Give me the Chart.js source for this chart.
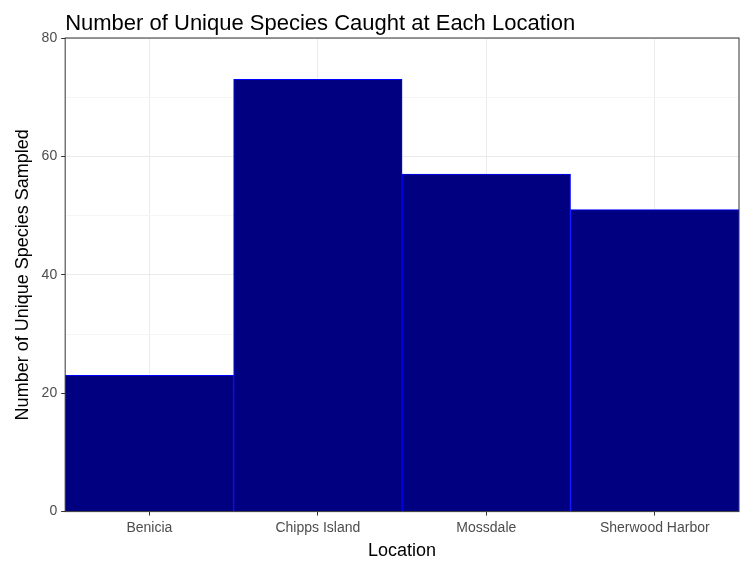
<!DOCTYPE html>
<html><head><meta charset="utf-8">
<script src="https://cdn.jsdelivr.net/npm/chart.js@4"></script>
<style>html,body{margin:0;padding:0;background:#fff}#w{width:750px;height:570px}</style>
</head><body><div id="w"><canvas id="c"></canvas></div>
<script>
const categories = ["Benicia","Chipps Island","Mossdale","Sherwood Harbor"];
const speciesCounts = [23,73,57,51];
const yTicks = [0,20,40,60,80];
const chartTitle = 'Number of Unique Species Caught at Each Location';
const font = "Arial, 'Liberation Sans', sans-serif";
const panelBorder = {id:'pb', afterDatasetsDraw(ch){const a=ch.chartArea,x=ch.ctx;x.save();x.strokeStyle='#333';x.lineWidth=1;x.strokeRect(a.left,a.top,a.right-a.left,a.bottom-a.top);
 x.fillStyle='#000';x.font='22px '+font;x.textBaseline='alphabetic';x.fillText(chartTitle,a.left,30);x.restore();}};
new Chart(document.getElementById('c'),{
 type:'bar',
 data:{labels:categories,datasets:[{data:speciesCounts,backgroundColor:'#000080',borderColor:'#0000ff',borderWidth:1,categoryPercentage:1,barPercentage:1}]},
 options:{responsive:true,maintainAspectRatio:false,animation:false,
  layout:{padding:{left:8,right:11,top:38,bottom:8}},
  plugins:{legend:{display:false},tooltip:{enabled:false},title:{display:false}},
  scales:{
   x:{grid:{offset:false,color:'#ebebeb',tickColor:'#333',tickLength:4},border:{display:false},
      ticks:{color:'#4d4d4d',font:{family:font,size:14},padding:4},
      title:{display:true,text:'Location',color:'#000',font:{family:font,size:18},padding:{top:0,bottom:0}}},
   y:{min:0,max:80,grid:{color:c=>c.tick&&c.tick.value%20===0?'#ebebeb':'#f5f5f5',tickColor:c=>c.tick&&c.tick.value%20===0?'#333':'rgba(0,0,0,0)',tickLength:4},border:{display:false},
      ticks:{stepSize:10,color:'#4d4d4d',font:{family:font,size:14},padding:4,callback:v=>yTicks.includes(v)?v:''},
      title:{display:true,text:'Number of Unique Species Sampled',color:'#000',font:{family:font,size:18},padding:{bottom:4}}}
  }},
 plugins:[panelBorder]
});
</script></body></html>
